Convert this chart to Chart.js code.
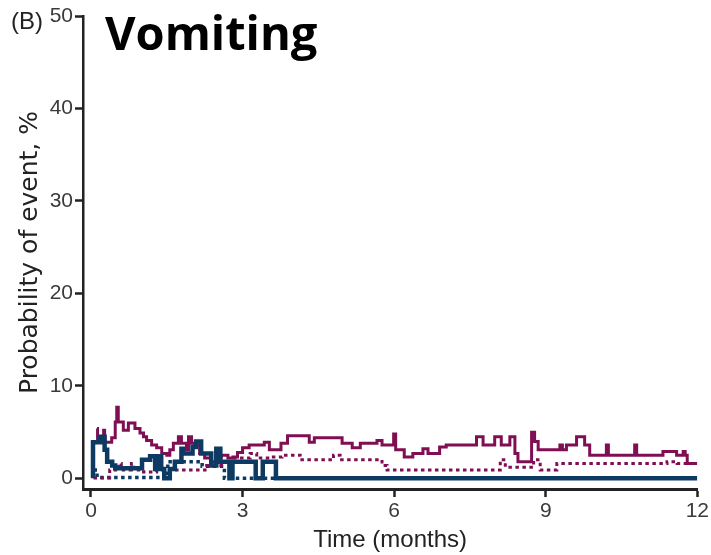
<!DOCTYPE html>
<html>
<head>
<meta charset="utf-8">
<title>Vomiting</title>
<script src="https://cdn.jsdelivr.net/npm/chart.js@4.4.1/dist/chart.umd.min.js"></script>
<style>
  html, body { margin: 0; padding: 0; background: #fff; }
  #chart { display: block; }
</style>
</head>
<body>
<canvas id="chart" width="711" height="555"></canvas>
<script>
/* Axis ticks */
const xTicks = [0, 3, 6, 9, 12];
const yTicks = [0, 10, 20, 30, 40, 50];

/* Maroon solid step line (months, %) */
const maroonSolidT = [
    0.12, 0.13, 0.25, 0.27, 0.41, 0.48, 0.51, 0.54, 0.64, 0.74,
    0.87, 0.97, 1.04, 1.10, 1.20, 1.30, 1.40, 1.50, 1.56, 1.63,
    1.73, 1.79, 1.89, 1.93, 1.99, 2.05, 2.15, 2.25, 2.38, 2.48,
    2.58, 2.71, 2.81, 2.90, 3.00, 3.13, 3.43, 3.53, 3.76, 3.89,
    4.32, 4.42, 4.97, 5.17, 5.33, 5.66, 5.76, 5.99, 6.03, 6.20,
    6.37, 6.57, 6.67, 6.90, 7.03, 7.63, 7.76, 7.99, 8.12, 8.29,
    8.39, 8.45, 8.72, 8.78, 8.85, 9.28, 9.33, 9.41, 9.61, 9.77,
    9.87, 10.20, 10.24, 10.76, 10.80, 11.32, 11.59, 11.72, 11.76, 11.80,
    12.0
];
const maroonSolidY = [
    5.4, 3.9, 5.2, 3.9, 4.4, 6.1, 7.7, 6.1, 5.2, 6.0,
    5.4, 4.9, 4.5, 4.1, 3.6, 3.3, 2.7, 2.5, 3.1, 3.8,
    4.5, 3.8, 3.1, 4.5, 3.8, 3.6, 2.7, 2.2, 1.8, 2.3,
    2.5, 2.2, 2.3, 2.8, 3.3, 3.6, 3.9, 3.1, 3.8, 4.6,
    3.9, 4.4, 3.8, 3.3, 3.8, 4.1, 3.6, 4.8, 3.1, 2.3,
    2.7, 3.2, 2.7, 3.4, 3.6, 4.5, 3.6, 4.5, 3.6, 4.5,
    2.7, 1.8, 5.0, 4.0, 3.1, 3.6, 3.1, 3.6, 4.5, 3.6,
    2.5, 3.6, 2.5, 3.6, 2.5, 2.9, 2.5, 2.9, 2.5, 1.6,
    1.6
];

/* Maroon dotted step line */
const maroonDotT = [
    0.05, 0.37, 0.55, 0.60, 0.80, 0.85, 1.04, 1.30, 2.29, 2.62,
    2.82, 3.15, 3.28, 3.54, 3.78, 4.14, 4.80, 4.93, 5.76, 5.86,
    8.10, 8.20, 8.76, 8.89, 9.22, 11.40, 11.60, 12.0
];
const maroonDotY = [
    0.05, 0.9, 1.6, 0.9, 1.6, 0.9, 0.7, 0.9, 1.4, 1.8,
    2.2, 2.7, 2.2, 2.3, 2.5, 2.0, 2.5, 2.0, 1.4, 0.9,
    2.0, 1.2, 2.0, 0.9, 1.6, 1.8, 1.6, 1.6
];

/* Navy solid (thick) step line */
const navySolidT = [
    0.04, 0.04, 0.18, 0.27, 0.32, 0.42, 0.48, 1.01, 1.17, 1.27,
    1.33, 1.39, 1.45, 1.56, 1.66, 1.79, 1.82, 2.01, 2.08, 2.18,
    2.38, 2.48, 2.56, 2.74, 2.80, 3.26, 3.40, 3.66, 12.0
];
const navySolidY = [
    0, 3.9, 4.5, 3.1, 1.8, 1.4, 1.1, 2.0, 2.4, 1.0,
    2.4, 1.0, 0, 1.0, 1.8, 3.2, 2.7, 3.4, 4.0, 2.7,
    1.4, 3.2, 1.8, 0, 1.8, 0, 1.8, 0, 0
];

/* Navy dotted step line */
const navyDotT = [0.05, 0.12, 1.52, 2.20, 2.64, 12.0];
const navyDotY = [0.9, 0.1, 1.8, 1.3, 0, 0];

const MAROON = '#7f0f52';
const NAVY = '#0c3a62';
const tickFont = '"Liberation Sans", Arial, sans-serif';

const toPoints = function(times, values) {
    return times.map((t, i) => ({ x: t, y: values[i] }));
}

const stepSet = function(times, values, color, width, dash) {
    return {
        data: toPoints(times, values),
        borderColor: color,
        borderWidth: width,
        borderDash: dash,
        borderCapStyle: 'butt',
        stepped: 'before',
        pointRadius: 0,
        fill: false
    }
}

/* Panel letter and big heading */
const panelText = {
    id: 'panelText',
    afterDraw(chart) {
        const c = chart.ctx;
        c.save();
        c.textBaseline = 'alphabetic';
        c.fillStyle = '#222';
        c.font = '24px "Liberation Sans", Arial, sans-serif';
        c.fillText('(B)', 11, 29);
        c.fillStyle = '#000';
        c.font = 'bold 47px "Open Sans", sans-serif';
        c.fillText('Vomiting', 105, 50);
        c.restore();
    }
};

new Chart(document.getElementById('chart'), {
    type: 'line',
    data: {
        datasets: [
            stepSet(navySolidT, navySolidY, NAVY, 4.5, []),
            stepSet(maroonSolidT, maroonSolidY, MAROON, 3, []),
            stepSet(maroonDotT, maroonDotY, MAROON, 3, [3.5, 3.5]),
            stepSet(navyDotT, navyDotY, NAVY, 3.5, [3.5, 3.5])
        ]
    },
    options: {
        responsive: false,
        animation: false,
        devicePixelRatio: 1,
        layout: { padding: { top: 16, right: 11, left: 0, bottom: 0 } },
        plugins: {
            legend: { display: false },
            tooltip: { enabled: false }
        },
        scales: {
            x: {
                type: 'linear',
                min: -0.158,
                max: 12,
                afterBuildTicks: (s) => { s.ticks = xTicks.map(v => ({ value: v })); },
                afterFit: (s) => { s.height = 66; },
                grid: { drawOnChartArea: false, drawTicks: true, tickLength: 8, tickWidth: 2.5, tickColor: '#222' },
                border: { display: true, color: '#222', width: 3 },
                ticks: { color: '#3a3a3a', font: { family: tickFont, size: 21 }, padding: 2, maxRotation: 0, autoSkip: false },
                title: {
                    display: true,
                    text: 'Time (months)',
                    color: '#222',
                    font: { family: tickFont, size: 24, lineHeight: 1.2 },
                    padding: { top: 0, bottom: 0 }
                }
            },
            y: {
                type: 'linear',
                min: -1.15,
                max: 50,
                afterBuildTicks: (s) => { s.ticks = yTicks.map(v => ({ value: v })); },
                afterFit: (s) => { s.width = 83; },
                grid: { drawOnChartArea: false, drawTicks: true, tickLength: 8, tickWidth: 2.5, tickColor: '#222' },
                border: { display: true, color: '#222', width: 2.5 },
                ticks: { color: '#3a3a3a', font: { family: tickFont, size: 21 }, padding: 2 },
                title: {
                    display: true,
                    text: 'Probability of event, %',
                    color: '#222',
                    font: { family: '"DejaVu Sans", sans-serif', size: 25, lineHeight: 1.2 },
                    padding: { top: 15, bottom: 0 }
                }
            }
        }
    },
    plugins: [panelText]
});
</script>
</body>
</html>
